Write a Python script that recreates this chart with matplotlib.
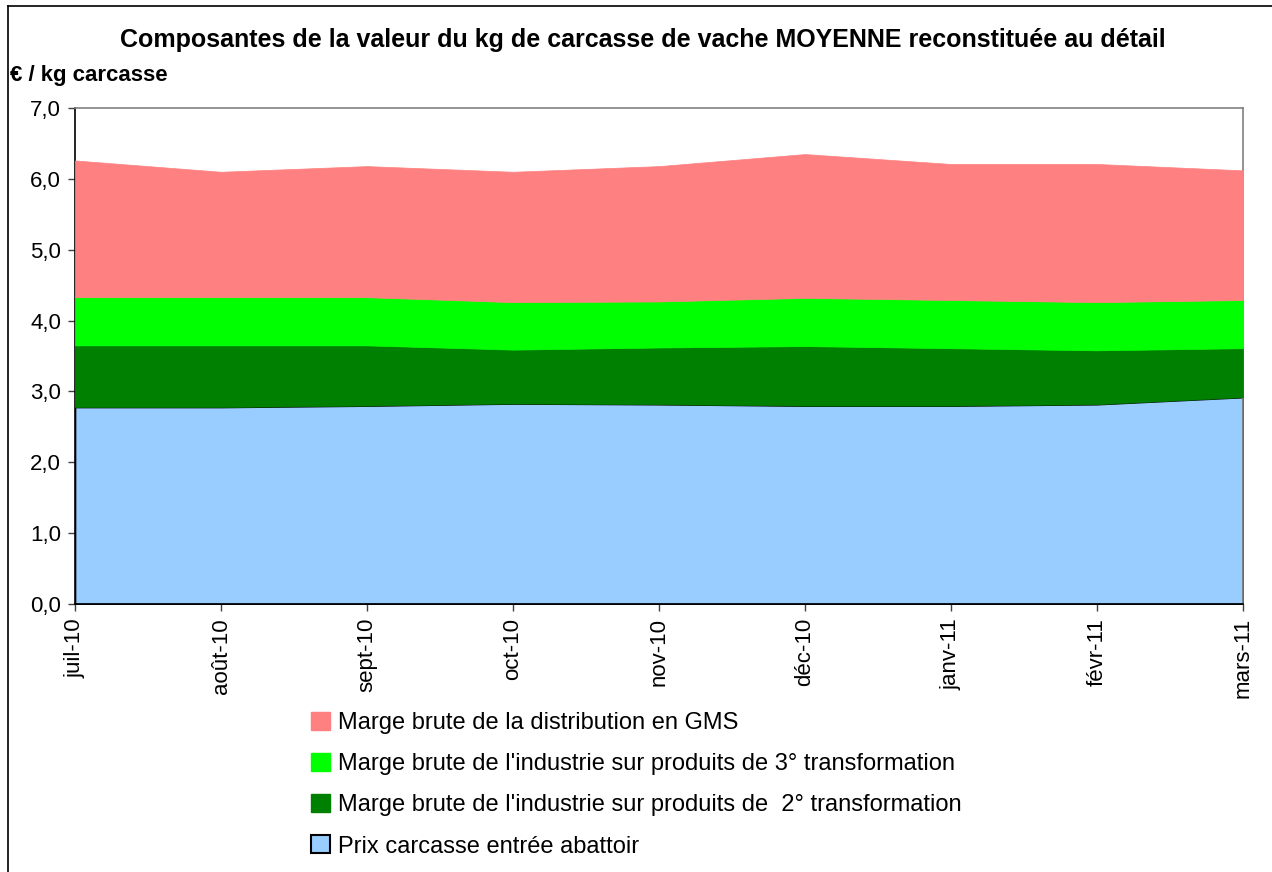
import numpy as np
import matplotlib
matplotlib.use('Agg')
from matplotlib import pyplot as plt
from matplotlib.patches import Patch
from matplotlib.lines import Line2D

plt.rcParams['font.family'] = ['Liberation Sans', 'DejaVu Sans']

# data (€ / kg carcasse)
mois = ['juil-10', 'août-10', 'sept-10', 'oct-10', 'nov-10', 'déc-10', 'janv-11', 'févr-11', 'mars-11']
prix_abattoir = [2.78, 2.78, 2.80, 2.83, 2.82, 2.80, 2.80, 2.82, 2.92]
marge_2transfo = [0.87, 0.87, 0.85, 0.76, 0.80, 0.84, 0.81, 0.76, 0.69]
marge_3transfo = [0.68, 0.68, 0.68, 0.67, 0.65, 0.68, 0.68, 0.68, 0.68]
marge_gms = [1.93, 1.77, 1.85, 1.84, 1.91, 2.03, 1.92, 1.95, 1.83]

labels = ["Prix carcasse entrée abattoir",
          "Marge brute de l'industrie sur produits de  2° transformation",
          "Marge brute de l'industrie sur produits de 3° transformation",
          "Marge brute de la distribution en GMS"]
couleurs = ['#99CCFF', '#008000', '#00FF00', '#FF8080']

fig = plt.figure(figsize=(12.72, 8.72), dpi=100)
ax = fig.add_axes([75/1272, 1-604/872, (1243-75)/1272, (604-108)/872])

x = np.arange(len(mois))
series = [prix_abattoir, marge_2transfo, marge_3transfo, marge_gms]
bas = np.zeros(len(mois))
for i, s in enumerate(series):
    haut = bas + np.array(s)
    if i == 0:
        ax.fill_between(x, bas, haut, facecolor=couleurs[i], edgecolor='black', linewidth=1.2, zorder=2)
    else:
        ax.fill_between(x, bas, haut, facecolor=couleurs[i], edgecolor=couleurs[i], linewidth=0.5, zorder=3)
    bas = haut

ax.set_xlim(0, len(mois) - 1)
ax.set_ylim(0, 7)
ax.set_yticks(np.arange(0, 7.5, 1.0))
ax.set_yticklabels(['{:.1f}'.format(v).replace('.', ',') for v in np.arange(0, 7.5, 1.0)], fontsize=16)
ax.set_xticks(x)
ax.set_xticklabels(mois, rotation=90, fontsize=16)
ax.tick_params(axis='both', direction='out', length=5, width=1, colors='#404040', labelcolor='black')
ax.tick_params(axis='x', pad=5)
ax.tick_params(axis='y', pad=5)

for sp in ['top', 'right']:
    ax.spines[sp].set_color('#808080')
    ax.spines[sp].set_linewidth(1.2)
for sp in ['left', 'bottom']:
    ax.spines[sp].set_color('black')
    ax.spines[sp].set_linewidth(1.2)

fig.text(0.5055, 1-40/872, 'Composantes de la valeur du kg de carcasse de vache MOYENNE reconstituée au détail',
         ha='center', va='center', fontsize=18, fontweight='bold')
fig.text(10/1272, 1-75/872, '€ / kg carcasse', ha='left', va='center', fontsize=16, fontweight='bold')

# legend, top entry = top layer
handles = [Patch(facecolor=couleurs[3], edgecolor=couleurs[3]),
           Patch(facecolor=couleurs[2], edgecolor=couleurs[2]),
           Patch(facecolor=couleurs[1], edgecolor=couleurs[1]),
           Patch(facecolor=couleurs[0], edgecolor='black', linewidth=1.5)]
fig.legend(handles, [labels[3], labels[2], labels[1], labels[0]],
           loc='upper left', bbox_to_anchor=(311/1272, 1-712/872), frameon=False,
           fontsize=17, handlelength=0.8, handleheight=0.8, handletextpad=0.35,
           labelspacing=0.8, borderpad=0, borderaxespad=0)

# cadre du graphique
fig.add_artist(Line2D([8/1272, 8/1272], [0, 1-6/872], color='black', linewidth=1.2))
fig.add_artist(Line2D([8/1272, 1], [1-6/872, 1-6/872], color='black', linewidth=1.2))

fig.savefig('out.png', dpi=100)
